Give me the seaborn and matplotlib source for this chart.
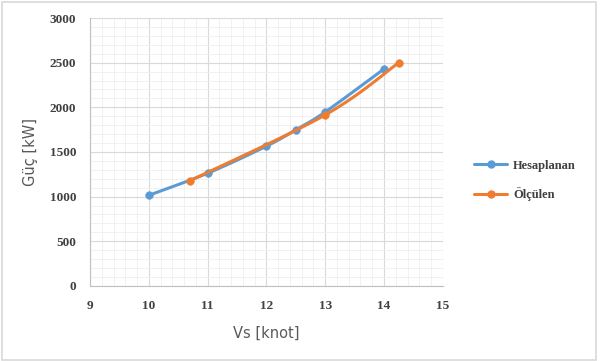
import numpy as np
import pandas as pd
import matplotlib
matplotlib.use("Agg")
import matplotlib.pyplot as plt
from matplotlib.lines import Line2D
from matplotlib.ticker import MultipleLocator
import seaborn as sns

# Data
hes_x = [10, 11, 12, 12.5, 13, 14]
hes_y = [1015, 1262, 1565, 1748, 1948, 2430]
olc_x = [10.7, 13, 14.25]
olc_y = [1178, 1915, 2500]
series_names = ["Hesaplanan", "Ölçülen"]
x_ticks = [9, 10, 11, 12, 13, 14, 15]
y_ticks = [0, 500, 1000, 1500, 2000, 2500, 3000]

blue = "#5B9BD5"
orange = "#ED7D31"


def smooth(xs, ys, n=30):
    """Excel-like smoothed line (Catmull-Rom style Bezier)."""
    P = np.column_stack([xs, ys]).astype(float)
    out = []
    for i in range(len(P) - 1):
        p0 = P[i - 1] if i > 0 else P[i]
        p1 = P[i]
        p2 = P[i + 1]
        p3 = P[i + 2] if i + 2 < len(P) else P[i + 1]
        c1 = p1 + (p2 - p0) / 6
        c2 = p2 - (p3 - p1) / 6
        t = np.linspace(0, 1, n)[:, None]
        seg = (1 - t) ** 3 * p1 + 3 * (1 - t) ** 2 * t * c1 + 3 * (1 - t) * t ** 2 * c2 + t ** 3 * p2
        out.append(seg if i == 0 else seg[1:])
    S = np.vstack(out)
    return S[:, 0], S[:, 1]


sns.set_style("white")
plt.rcParams["font.family"] = ["DejaVu Sans"]

fig = plt.figure(figsize=(6.0, 3.61), dpi=100)
ax = fig.add_axes([0.15, 0.208, 0.588, 0.742])

hx, hy = smooth(hes_x, hes_y)
ox, oy = smooth(olc_x, olc_y)
sns.lineplot(x=hx, y=hy, ax=ax, color=blue, lw=2.2, sort=False, zorder=3)
sns.scatterplot(x=hes_x, y=hes_y, ax=ax, color=blue, s=30, edgecolor=blue, zorder=4)
sns.lineplot(x=ox, y=oy, ax=ax, color=orange, lw=2.2, sort=False, zorder=5)
sns.scatterplot(x=olc_x, y=olc_y, ax=ax, color=orange, s=30, edgecolor=orange, zorder=6)

ax.set_xlim(9, 15)
ax.set_ylim(0, 3000)
ax.set_xticks(x_ticks)
ax.set_yticks(y_ticks)
ax.xaxis.set_minor_locator(MultipleLocator(0.2))
ax.yaxis.set_minor_locator(MultipleLocator(100))
ax.grid(which="major", color="#D9D9D9", lw=0.8, zorder=0)
ax.grid(which="minor", color="#EFEFEF", lw=0.6, zorder=0)
ax.set_axisbelow(True)
for s in ["top", "right"]:
    ax.spines[s].set_visible(False)
for s in ["left", "bottom"]:
    ax.spines[s].set_color("#BFBFBF")
    ax.spines[s].set_linewidth(0.8)
ax.tick_params(which="major", length=4, color="#BFBFBF", width=0.8, pad=6)
ax.tick_params(which="minor", length=0)
for lab in ax.get_xticklabels() + ax.get_yticklabels():
    lab.set_fontfamily("Liberation Serif")
    lab.set_fontweight("bold")
    lab.set_fontsize(9.5)
    lab.set_color("#404040")

ax.set_xlabel("Vs [knot]", fontsize=10.5, color="#595959", labelpad=10)
ax.set_ylabel("Güç [kW]", fontsize=10.5, color="#595959", labelpad=8)

handles = [Line2D([], [], color=blue, lw=2.2, marker="o", ms=5),
           Line2D([], [], color=orange, lw=2.2, marker="o", ms=5)]
leg = fig.legend(handles, series_names, loc="center left", bbox_to_anchor=(0.772, 0.5),
                 frameon=False, handlelength=2.6, handletextpad=0.5, labelspacing=1.25,
                 prop={"family": "Liberation Serif", "weight": "bold", "size": 9})
for t in leg.get_texts():
    t.set_color("#404040")

# chart border
fig.patches.append(plt.Rectangle((0.003, 0.004), 0.99, 0.99, transform=fig.transFigure,
                                 fill=False, edgecolor="#D9D9D9", lw=1.2))

fig.savefig("out.png", dpi=100)
